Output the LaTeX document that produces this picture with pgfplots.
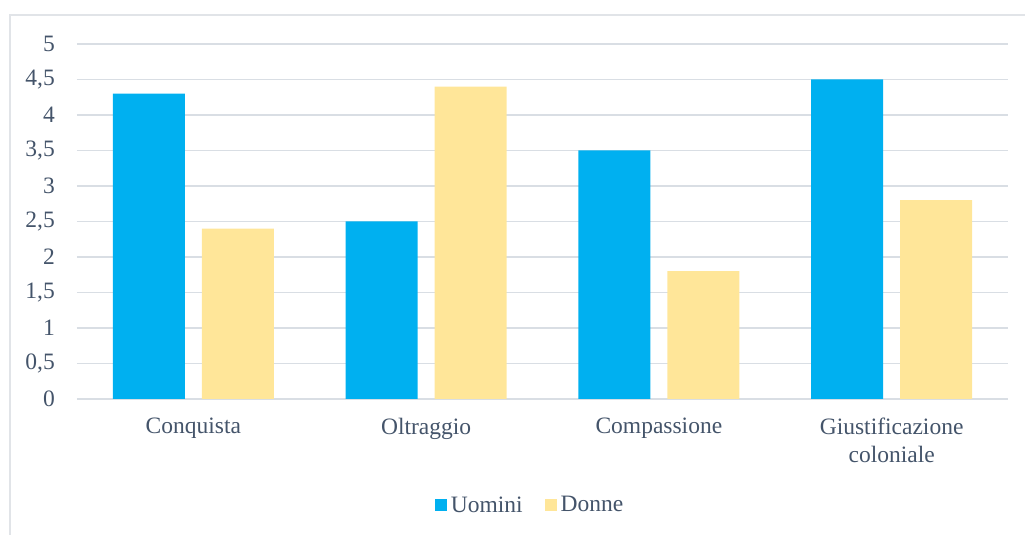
\documentclass[border=0pt]{standalone}
\usepackage{pgfplots}
\pgfplotsset{compat=1.18}
\usepackage{fontspec}
\setmainfont{Liberation Serif}
\definecolor{uomini}{HTML}{00B0F0}
\definecolor{donne}{HTML}{FFE699}
\definecolor{txt}{HTML}{44546A}
\definecolor{gridc}{HTML}{D9DEE4}
\definecolor{framec}{HTML}{E1E4E8}
\begin{document}
\begin{tikzpicture}[x=1pt,y=1pt]
\useasboundingbox (0,0) rectangle (1025,535);
\draw[framec, line width=1.5pt] (10,0) -- (10,520) -- (1025,520);
\begin{axis}[
  at={(77pt,136pt)}, anchor=south west,
  width=931pt, height=355pt, scale only axis,
  xmin=-0.5, xmax=3.5, ymin=0, ymax=5,
  ybar=17pt, bar width=72pt,
  xtick={0,1,2,3},
  xticklabels={Conquista,Oltraggio,Compassione,{Giustificazione\\coloniale}},
  ytick={0,0.5,...,5},
  major tick length=0pt,
  axis line style={draw=none},
  ymajorgrids, grid style={gridc, line width=1.5pt},
  /pgf/number format/use comma,
  /pgf/number format/assume math mode=true,
  ticklabel style={font=\fontsize{23.5}{27.5}\selectfont, text=txt},
  yticklabel style={anchor=east, inner sep=0pt, xshift=-22pt},
  xticklabel style={anchor=north, inner sep=0pt, align=center, yshift=-19pt},
  legend style={at={(0.4866,-0.2986)}, anchor=center, draw=none, fill=none,
    legend columns=2, font=\fontsize{23.5}{27}\selectfont, text=txt,
    /tikz/every odd column/.append style={column sep=2pt},
    /tikz/every even column/.append style={column sep=20pt}},
  clip=false,
]
\addplot[fill=uomini, draw=none,
  legend image code/.code={\fill[uomini] (0pt,-6pt) rectangle (12pt,6pt);}]
  coordinates {(0,4.3) (1,2.5) (2,3.5) (3,4.5)};
\addplot[fill=donne, draw=none,
  legend image code/.code={\fill[donne] (0pt,-6pt) rectangle (12pt,6pt);}]
  coordinates {(0,2.4) (1,4.4) (2,1.8) (3,2.8)};
\legend{Uomini,Donne}
\end{axis}
\end{tikzpicture}
\end{document}
